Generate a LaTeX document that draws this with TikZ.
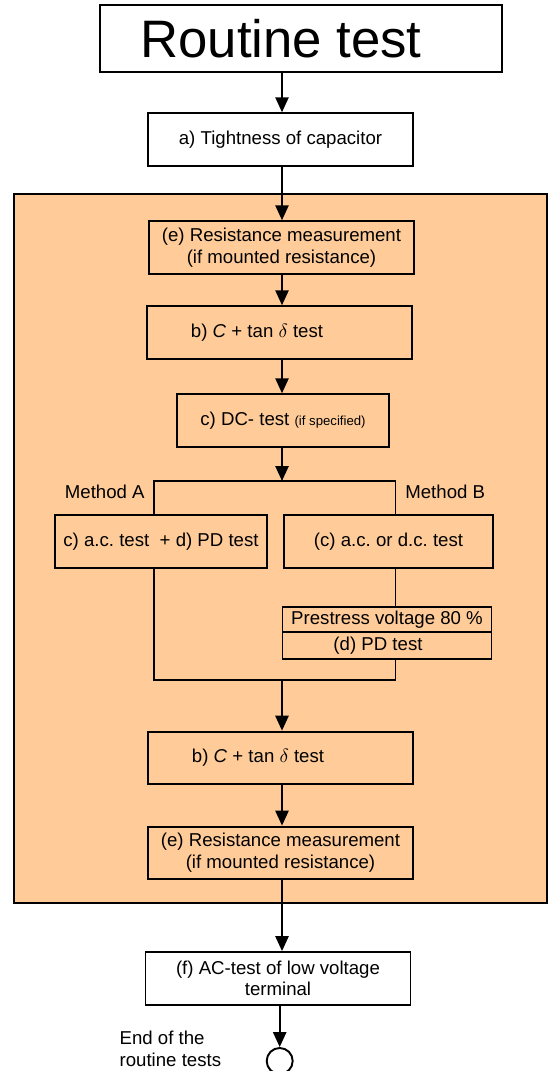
\documentclass[tikz,border=0pt]{standalone}
\usepackage{fontspec}
\setmainfont{Liberation Sans}
\usepackage{xcolor}
\usetikzlibrary{arrows.meta,positioning,calc}
\definecolor{peach}{HTML}{FFCC99}
\frenchspacing

\begin{document}
\begin{tikzpicture}[
  testbox/.style={draw=black, line width=1.1pt, minimum width=5.3cm, minimum height=1.05cm, align=center, font=\fontsize{10.6}{12.4}\selectfont, inner sep=2pt},
  label/.style={font=\fontsize{10.6}{12.4}\selectfont, inner sep=0pt},
  conn/.style={black, line width=1.1pt},
  arr/.style={conn, -{Triangle[length=8.5pt,width=7.5pt]}}
]
\useasboundingbox (0,0) rectangle (11,21.42);

% ---- Peach frame ----
\draw[line width=1.1pt, fill=peach] (0.28,3.36) rectangle (10.94,17.54);

% ---- Top ----
\node[testbox, minimum width=8.04cm, minimum height=1.34cm, font=\fontsize{30}{36}\selectfont] (title) at (6.02,20.65) {Routine test\hspace*{0.8cm}};
\node[testbox] (tight) at (5.61,18.63) {a) Tightness of capacitor};
\coordinate (ax) at (5.64,0);

% ---- Inside frame ----
\node[testbox] (res1) at (5.63,16.47) {(e) Resistance measurement\\(if mounted resistance)};
\node[testbox] (ctan1) at (5.59,14.77) {b) \textit{C} + tan $\delta$ test\hspace*{0.9cm}};
\node[testbox, minimum width=4.23cm] (dc) at (5.66,13.01) {c) DC- test {\fontsize{7.5}{9}\selectfont (if specified)}};

% ---- Method A / Method B ----
\coordinate (brA) at (3.08,11.8);
\coordinate (brB) at (7.91,11.8);
\node[label, anchor=east] (metA) at (2.9,11.58) {Method A};
\node[label, anchor=west] (metB) at (8.1,11.58) {Method B};
\node[testbox, minimum width=4.24cm] (acA) at (3.22,10.594) {c) a.c. test\ \ + d) PD test};
\node[testbox, minimum width=4.18cm] (acB) at (7.77,10.59) {(c) a.c. or d.c. test};
\node[testbox, minimum width=4.18cm, minimum height=0.494cm, inner sep=0pt] (pre) at (7.74,9.034) {Prestress voltage 80 \%};
\node[testbox, minimum width=4.18cm, minimum height=0.552cm, inner sep=0pt] (pd) at (7.74,8.51) {(d) PD test\hspace*{0.36cm}};
\coordinate (jnA) at (3.08,7.82);
\coordinate (jnB) at (7.91,7.82);

\node[testbox] (ctan2) at (5.61,6.262) {b) \textit{C} + tan $\delta$ test\hspace*{0.9cm}};
\node[testbox] (res2) at (5.61,4.363) {(e) Resistance measurement\\(if mounted resistance)};

% ---- Bottom ----
\node[testbox] (lv) at (5.56,1.854) {(f) AC-test of low voltage\\terminal};
\node[draw, circle, line width=1.1pt, minimum size=0.52cm, inner sep=0pt] (endc) at (5.594,0.2) {};
\node[label, anchor=north west, align=left] (endtxt) at (2.386,0.8) {End of the\\routine tests};

% ---- Connectors ----
\draw[arr] (title.south -| ax) -- (tight.north -| ax);
\draw[arr] (tight.south -| ax) -- (res1.north -| ax);
\draw[arr] (res1.south -| ax) -- (ctan1.north -| ax);
\draw[arr] (ctan1.south -| ax) -- (dc.north -| ax);
\draw[arr] (dc.south -| ax) -- (brA -| ax);
\draw[conn] (acA.north -| brA) -- (brA) -- (brB) -- (acB.north -| brB);
\draw[conn] (acB.south -| brB) -- (pre.north -| brB);
\draw[conn] (acA.south -| jnA) -- (jnA) -- (jnB) -- (pd.south -| jnB);
\draw[arr] (jnA -| ax) -- (ctan2.north -| ax);
\draw[arr] (ctan2.south -| ax) -- (res2.north -| ax);
\draw[arr] (res2.south -| ax) -- (lv.north -| ax);
\draw[arr] (lv.south -| endc) -- (endc.north);

\end{tikzpicture}
\end{document}
